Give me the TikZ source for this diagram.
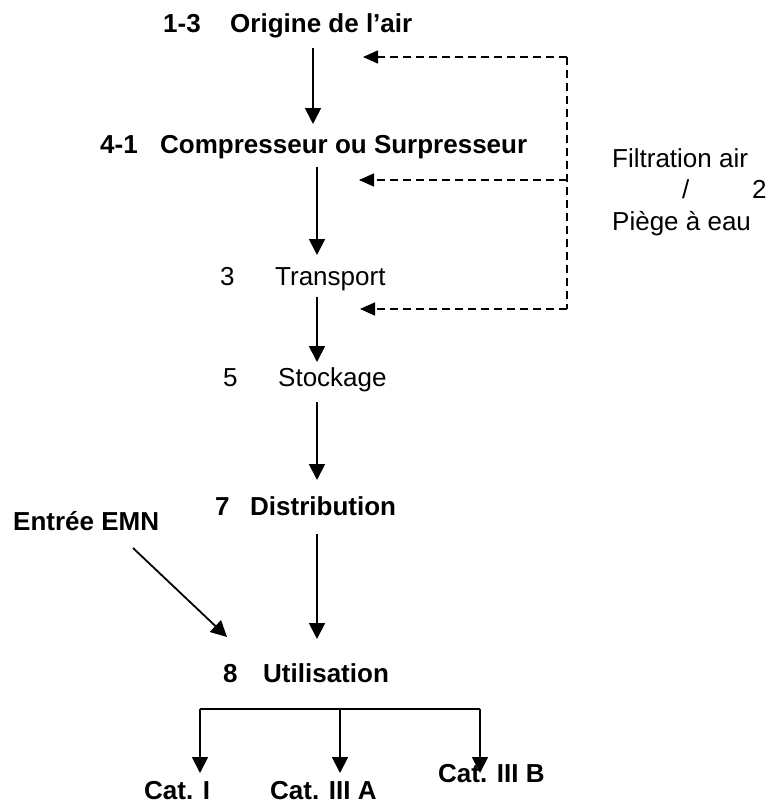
\documentclass[tikz,border=0pt]{standalone}
\usepackage{fontspec}
\setmainfont{Liberation Sans}
\usetikzlibrary{arrows.meta,calc}
\begin{document}
\begin{tikzpicture}[x=1pt,y=-1pt,
  lbl/.style={anchor=base west,inner sep=0pt,font=\fontsize{26}{30}\selectfont},
  lblb/.style={lbl,font=\fontsize{26}{30}\selectfont\bfseries},
  flow/.style={line width=1.8pt,-{Triangle[length=16pt,width=16pt]}},
  feed/.style={line width=1.6pt,dash pattern=on 8pt off 5pt,-{Triangle[length=15pt,width=13pt]}},
  feedline/.style={line width=1.6pt,dash pattern=on 8pt off 5pt},
  plain/.style={line width=1.8pt}]
\useasboundingbox[fill=white] (0,0) rectangle (769,806);
% nodes
\node[lblb] (n13) at (163,32) {1-3};
\node[lblb] (orig) at (230,32) {Origine de l’air};
\node[lblb] (n41) at (100,153) {4-1};
\node[lblb] (comp) at (160,153) {Compresseur ou Surpresseur};
\node[lbl] (n3) at (220,285) {3};
\node[lbl] (trans) at (275,285) {Transport};
\node[lbl] (n5) at (223,386) {5};
\node[lbl] (stock) at (278,386) {Stockage};
\node[lblb] (n7) at (215,515) {7};
\node[lblb] (dist) at (250,515) {Distribution};
\node[lblb] (emn) at (13,530) {Entrée EMN};
\node[lblb] (n8) at (223,682) {8};
\node[lblb] (util) at (263,682) {Utilisation};
\node[lblb] (cat1) at (144,799) {Cat. I};
\node[lblb] (cat3a) at (270,799) {Cat. III A};
\node[lblb] (cat3b) at (438,782) {Cat. III B};
\node[lbl] (filt) at (612,167) {Filtration air};
\node[lbl] (slash) at (682,198) {/};
\node[lbl] (two) at (752,198) {2};
\node[lbl] (piege) at (612,230) {Piège à eau};
% column coordinates
\coordinate (c1) at (313,0);
\coordinate (c2) at (317,0);
% main flow
\draw[flow] ([yshift=-16pt]orig.base -| c1) -- ([yshift=29pt]comp.base -| c1);
\draw[flow] ([yshift=-14pt]comp.base -| c2) -- ([yshift=30pt]trans.base -| c2);
\draw[flow] ([yshift=-12pt]trans.base -| c2) -- ([yshift=24pt]stock.base -| c2);
\draw[flow] ([yshift=-16pt]stock.base -| c2) -- ([yshift=35pt]dist.base -| c2);
\draw[flow] ([yshift=-19pt]dist.base -| c2) -- ([yshift=43pt]util.base -| c2);
\draw[flow] ([xshift=120pt,yshift=-18pt]emn.base west) -- ([xshift=-36pt,yshift=45pt]util.base west);
% branches
\coordinate (bl) at (200,709);
\coordinate (bm) at (340,709);
\coordinate (br) at (480,709);
\draw[plain] (bl) -- (br);
\draw[flow] (bl) -- ([yshift=26pt]cat1.base -| bl);
\draw[flow] (bm) -- ([yshift=26pt]cat3a.base -| bm);
\draw[flow] (br) -- ([yshift=9pt]cat3b.base -| br);
% filtration feeds
\coordinate (ft) at (567,57);
\coordinate (fm) at (567,180);
\coordinate (fb) at (567,309);
\draw[feedline] (ft) -- (fb);
\draw[feed] (ft) -- (363,57);
\draw[feed] (fm) -- (359,180);
\draw[feed] (fb) -- (360,309);
\end{tikzpicture}
\end{document}
